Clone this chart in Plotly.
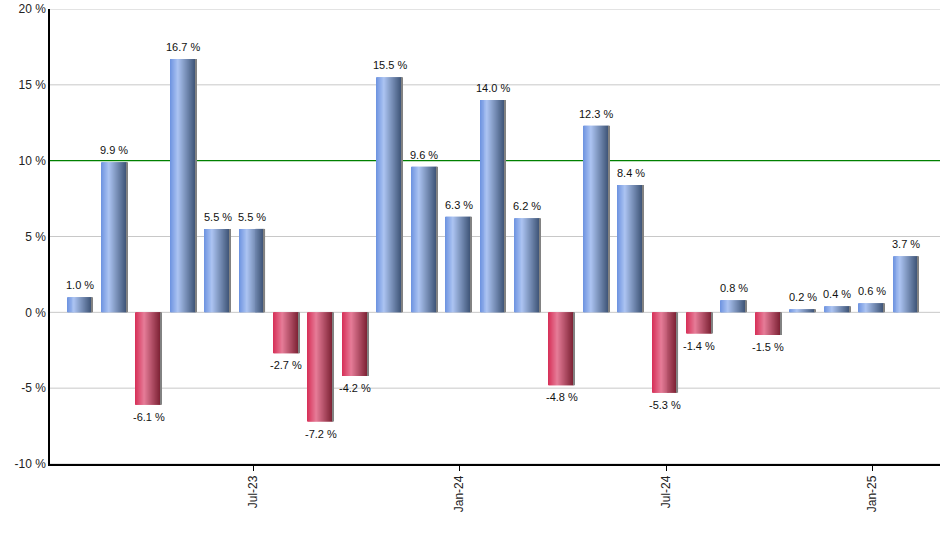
import plotly.graph_objects as go

months = ["Feb-23", "Mar-23", "Apr-23", "May-23", "Jun-23", "Jul-23", "Aug-23", "Sep-23",
          "Oct-23", "Nov-23", "Dec-23", "Jan-24", "Feb-24", "Mar-24", "Apr-24", "May-24",
          "Jun-24", "Jul-24", "Aug-24", "Sep-24", "Oct-24", "Nov-24", "Dec-24", "Jan-25", "Feb-25"]
returns = [1.0, 9.9, -6.1, 16.7, 5.5, 5.5, -2.7, -7.2, -4.2, 15.5, 9.6, 6.3, 14.0, 6.2, -4.8,
           12.3, 8.4, -5.3, -1.4, 0.8, -1.5, 0.2, 0.4, 0.6, 3.7]
tick_labels = ["Jul-23", "Jan-24", "Jul-24", "Jan-25"]
y_ticks = [-10, -5, 0, 5, 10, 15, 20]
benchmark = 10

x = list(range(len(months)))
tick_pos = [months.index(t) for t in tick_labels]
x_range = [-0.9, len(months) - 0.04]

blue_stops = [(0.0, (108, 146, 224)), (0.3, (172, 196, 242)), (1.0, (56, 78, 112))]
red_stops = [(0.0, (214, 46, 86)), (0.35, (230, 124, 152)), (1.0, (118, 28, 46))]


def interp(stops, t):
    for (t0, c0), (t1, c1) in zip(stops[:-1], stops[1:]):
        if t <= t1:
            f = (t - t0) / (t1 - t0) if t1 > t0 else 0
            return "rgb(%d,%d,%d)" % tuple(round(a + (b - a) * f) for a, b in zip(c0, c1))
    return "rgb(%d,%d,%d)" % stops[-1][1]


fig = go.Figure()
bar_w = 0.75
n_slices = 26
sw = bar_w / n_slices
for i in range(n_slices):
    t = (i + 0.5) / n_slices
    if i == n_slices - 1:
        cols = ["rgb(130,130,130)"] * len(returns)
    else:
        cols = [interp(blue_stops if v >= 0 else red_stops, t) for v in returns]
    fig.add_trace(go.Bar(
        x=x, y=returns, width=sw * 1.15, offset=-bar_w / 2 + i * sw - 0.03,
        marker=dict(color=cols, line=dict(width=0)),
        showlegend=False, hoverinfo="skip"))

for xi, v in zip(x, returns):
    fig.add_annotation(
        x=xi - 0.03, y=v, text="%.1f %%" % v, showarrow=False,
        yanchor="bottom" if v >= 0 else "top", yshift=4 if v >= 0 else -4,
        font=dict(family="Liberation Sans, Arial, sans-serif", size=11, color="#111"))

# gridlines (drawn as shapes so the benchmark line can sit on top of them, under the bars)
for yv in y_ticks:
    if yv == benchmark:
        continue
    fig.add_shape(type="line", xref="paper", x0=0, x1=1, yref="y", y0=yv, y1=yv,
                  line=dict(color="#c8c8c8", width=1), layer="below")
fig.add_shape(type="line", xref="paper", x0=0, x1=1, yref="y",
              y0=benchmark, y1=benchmark,
              line=dict(color="#008000", width=1.2), layer="below")

fig.update_layout(
    width=940, height=550,
    margin=dict(l=50, r=0, t=9, b=86),
    plot_bgcolor="rgba(0,0,0,0)", paper_bgcolor="white",
    barmode="overlay",
    font=dict(family="Liberation Sans, Arial, sans-serif", size=12, color="#222"),
    xaxis=dict(range=x_range, tickmode="array", tickvals=tick_pos,
               ticktext=tick_labels, tickangle=-90, ticks="outside", ticklen=5,
               tickcolor="black", showgrid=False, showline=True, linecolor="black",
               linewidth=1.5, zeroline=False),
    yaxis=dict(range=[-10, 20], tickmode="array", tickvals=y_ticks,
               ticktext=["%d %%" % v for v in y_ticks], showgrid=False,
               showline=True, linecolor="black",
               linewidth=1.5, zeroline=False, ticks="", ticklen=0),
)

fig.write_html("out.html")
